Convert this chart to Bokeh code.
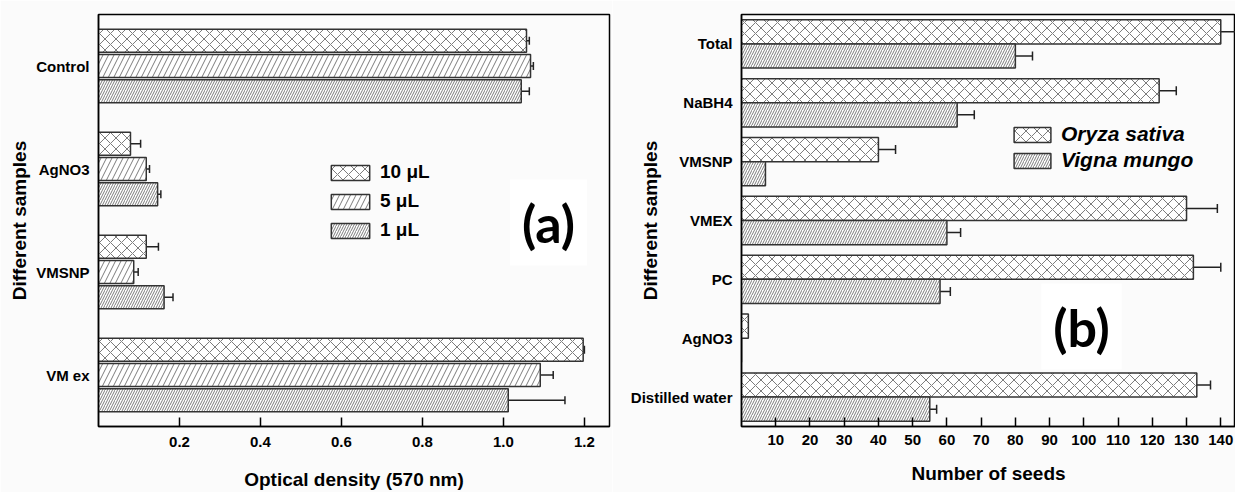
from bokeh.plotting import figure
from bokeh.models import (ColumnDataSource, FactorRange, Range1d, FixedTicker, Whisker,
                          TeeHead, Legend, LegendItem, Label)
from bokeh.transform import dodge
from bokeh.layouts import row
from bokeh.embed import file_html
from bokeh.resources import INLINE

# ---------------- data: panel (a) ----------------
a_samples = ["Control", "AgNO3", "VMSNP", "VM ex"]
a_series = ["10 μL", "5 μL", "1 μL"]
od_10 = [1.057, 0.079, 0.118, 1.197]
od_10_err = [0.007, 0.025, 0.030, 0.003]
od_5 = [1.067, 0.118, 0.087, 1.091]
od_5_err = [0.007, 0.008, 0.011, 0.032]
od_1 = [1.044, 0.146, 0.162, 1.012]
od_1_err = [0.020, 0.008, 0.022, 0.140]
a_ticks = [0.2, 0.4, 0.6, 0.8, 1.0, 1.2]

# ---------------- data: panel (b) ----------------
b_samples = ["Total", "NaBH4", "VMSNP", "VMEX", "PC", "AgNO3", "Distilled water"]
b_series = ["Oryza sativa", "Vigna mungo"]
oryza = [140, 122, 40, 130, 132, 2, 133]
oryza_err = [6.5, 5, 5, 9, 8, 0, 4]
vigna = [80, 63, 7, 60, 58, 0, 55]
vigna_err = [5, 5, 0, 4, 3, 0, 2]
b_ticks = [10, 20, 30, 40, 50, 60, 70, 80, 90, 100, 110, 120, 130, 140]

FONT = "Liberation Sans"
BG = "#fbfbfb"
EDGE = "#333333"
HATCH = "#5a5a5a"


def style_axes(p, xlabel, ylabel, ylab_standoff, xl_standoff, xt_standoff):
    p.outline_line_color = "black"
    p.outline_line_width = 1.5
    p.xgrid.visible = False
    p.ygrid.visible = False
    xa = p.xaxis[0]
    xa.axis_label = xlabel
    xa.axis_label_text_font = FONT
    xa.axis_label_text_font_style = "bold"
    xa.axis_label_text_font_size = "19px"
    xa.axis_label_text_color = "black"
    xa.axis_label_standoff = xl_standoff
    xa.major_label_text_font = FONT
    xa.major_label_text_font_style = "bold"
    xa.major_label_text_font_size = "15px"
    xa.major_label_text_color = "black"
    xa.major_label_standoff = xt_standoff
    xa.major_tick_in = 9
    xa.major_tick_out = 0
    xa.major_tick_line_width = 1.5
    xa.minor_tick_line_color = None
    xa.axis_line_width = 1.5
    ya = p.yaxis[0]
    ya.axis_label = ylabel
    ya.axis_label_text_font = FONT
    ya.axis_label_text_font_style = "bold"
    ya.axis_label_text_font_size = "19px"
    ya.axis_label_text_color = "black"
    ya.axis_label_standoff = ylab_standoff
    ya.major_label_text_font = FONT
    ya.major_label_text_font_style = "bold"
    ya.major_label_text_font_size = "15px"
    ya.major_label_text_color = "black"
    ya.major_label_standoff = 9
    ya.major_tick_line_color = None
    ya.major_tick_in = 0
    ya.major_tick_out = 0
    ya.axis_line_width = 1.5


# ================= panel (a) =================
pa = figure(width=612, height=492, output_backend="svg", toolbar_location=None,
            y_range=FactorRange(factors=a_samples[::-1], range_padding=0),
            x_range=Range1d(0, 1.262),
            min_border_left=98, min_border_right=3, min_border_top=14, min_border_bottom=63,
            background_fill_color=BG, border_fill_color=BG)
pa.xaxis.ticker = FixedTicker(ticks=a_ticks)
pa.xaxis.major_label_overrides = {t: f"{t:.1f}" for t in a_ticks}

src_a = ColumnDataSource(dict(cat=a_samples, v10=od_10, v5=od_5, v1=od_1))
a_specs = [
    ("v10", od_10, od_10_err, 0.245, "x", 11),
    ("v5", od_5, od_5_err, 0.0, "/", 11),
    ("v1", od_1, od_1_err, -0.245, "/", 5),
]
a_items = []
for (col, vals, errs, off, pat, sc), name in zip(a_specs, a_series):
    r = pa.hbar(y=dodge("cat", off, range=pa.y_range), right=col, left=0, height=0.225,
                source=src_a, fill_color="white", line_color=EDGE, line_width=1.5,
                hatch_pattern=pat, hatch_scale=sc, hatch_color=HATCH, hatch_weight=0.8)
    a_items.append(LegendItem(label=name, renderers=[r]))
    es = ColumnDataSource(dict(
        cat=[c for c, e in zip(a_samples, errs) if e > 0],
        lo=[v - e for v, e in zip(vals, errs) if e > 0],
        hi=[v + e for v, e in zip(vals, errs) if e > 0]))
    w = Whisker(base=dodge("cat", off, range=pa.y_range), lower="lo", upper="hi",
                dimension="width", source=es, line_color="#222222", line_width=1.5,
                upper_head=TeeHead(size=8, line_width=1.5, line_color="#222222"),
                lower_head=TeeHead(size=8, line_width=1.5, line_color="#222222"))
    pa.add_layout(w)

style_axes(pa, "Optical density (570 nm)", "Different samples", 3, 19, 10)

leg_a = Legend(items=a_items, location=(228, 185), orientation="vertical",
               glyph_width=48, glyph_height=19, label_height=19, spacing=7,
               padding=0, margin=0, label_standoff=6,
               label_text_font=FONT, label_text_font_style="bold",
               label_text_font_size="19px", label_text_color="black",
               border_line_alpha=0, background_fill_alpha=0)
pa.add_layout(leg_a, "center")

pa.add_layout(Label(x=450, y=204, x_units="screen", y_units="screen", text="(a)",
                    text_font="Lato", text_font_style="bold", text_font_size="52px",
                    text_align="center", text_baseline="middle", text_color="black",
                    background_fill_color="white", padding=12))

# ================= panel (b) =================
pb = figure(width=623, height=492, output_backend="svg", toolbar_location=None,
            y_range=FactorRange(factors=b_samples[::-1], range_padding=0),
            x_range=Range1d(0, 144.3),
            min_border_left=129, min_border_right=0, min_border_top=13, min_border_bottom=65,
            background_fill_color=BG, border_fill_color=BG)
pb.xaxis.ticker = FixedTicker(ticks=b_ticks)

src_b = ColumnDataSource(dict(cat=b_samples, oryza=oryza, vigna=vigna))
b_specs = [
    ("oryza", oryza, oryza_err, 0.205, "x", 11),
    ("vigna", vigna, vigna_err, -0.205, "/", 5),
]
b_items = []
for (col, vals, errs, off, pat, sc), name in zip(b_specs, b_series):
    r = pb.hbar(y=dodge("cat", off, range=pb.y_range), right=col, left=0, height=0.41,
                source=src_b, fill_color="white", line_color=EDGE, line_width=1.5,
                hatch_pattern=pat, hatch_scale=sc, hatch_color=HATCH, hatch_weight=0.8)
    b_items.append(LegendItem(label=name, renderers=[r]))
    es = ColumnDataSource(dict(
        cat=[c for c, e in zip(b_samples, errs) if e > 0],
        lo=[v - e for v, e in zip(vals, errs) if e > 0],
        hi=[v + e for v, e in zip(vals, errs) if e > 0]))
    w = Whisker(base=dodge("cat", off, range=pb.y_range), lower="lo", upper="hi",
                dimension="width", source=es, line_color="#222222", line_width=1.5,
                upper_head=TeeHead(size=9, line_width=1.5, line_color="#222222"),
                lower_head=TeeHead(size=9, line_width=1.5, line_color="#222222"))
    pb.add_layout(w)

style_axes(pb, "Number of seeds", "Different samples", -33, 15, 8)

leg_b = Legend(items=b_items, location=(268, 254), orientation="vertical",
               glyph_width=46, glyph_height=19, label_height=19, spacing=2,
               padding=0, margin=0, label_standoff=6,
               label_text_font=FONT, label_text_font_style="bold italic",
               label_text_font_size="21px", label_text_color="black",
               border_line_alpha=0, background_fill_alpha=0)
pb.add_layout(leg_b, "center")

pb.add_layout(Label(x=340, y=100, x_units="screen", y_units="screen", text="(b)",
                    text_font="Lato", text_font_style="bold", text_font_size="52px",
                    text_align="center", text_baseline="middle", text_color="black",
                    background_fill_color="white", padding=12))

layout = row(pa, pb)
open("out.html", "w").write(file_html(layout, INLINE))
